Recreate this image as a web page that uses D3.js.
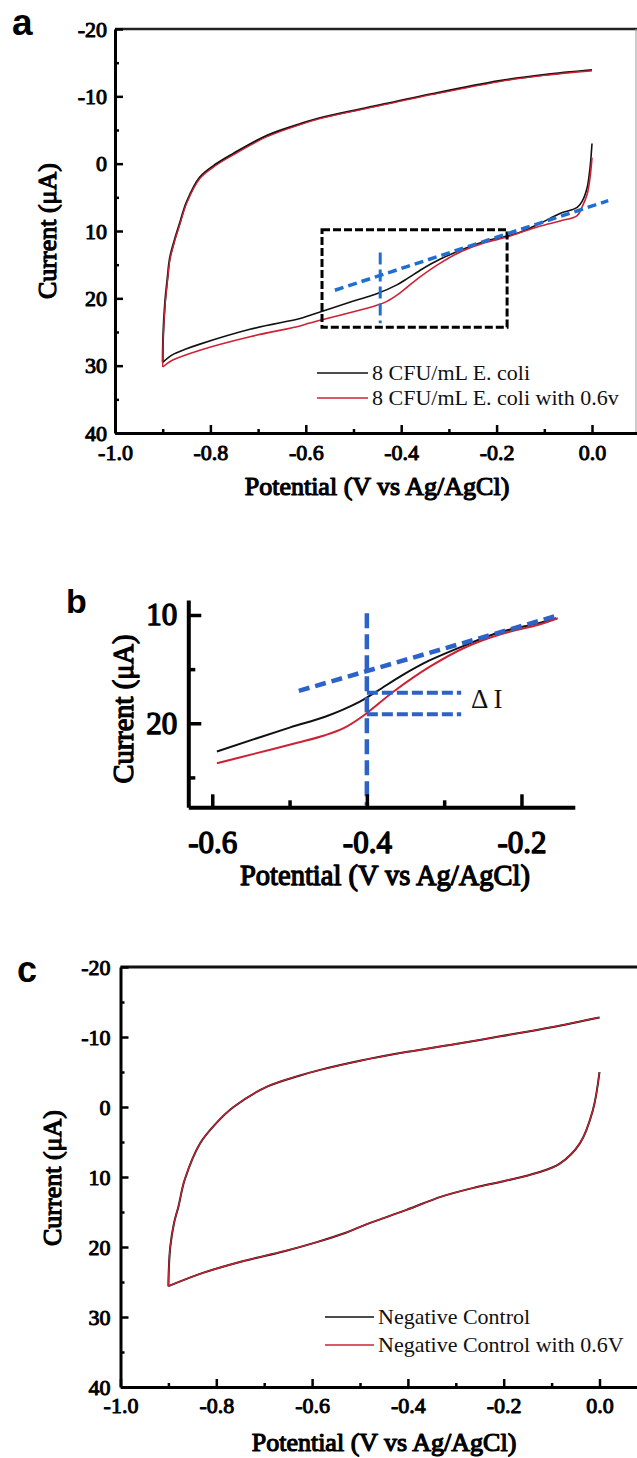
<!DOCTYPE html>
<html><head><meta charset="utf-8">
<script src="https://cdn.jsdelivr.net/npm/d3@7"></script>
<style>body{margin:0;background:#fff}svg{display:block}</style>
</head><body>
<script>
// ---------- DATA (Potential V, Current µA) ----------
// Panel a / b : 8 CFU/mL E. coli
const ecoliLowerV      = [-0.9,-0.88,-0.85,-0.822,-0.717,-0.612,-0.594,-0.5,-0.454,-0.409,-0.386,-0.355,-0.319,-0.273,-0.228,-0.178,-0.155,-0.11,-0.067,-0.031,-0.02,-0.01,-0.004,0.0];
const ecoliLowerI      = [29.5,28.4,27.5,26.8,24.6,23.0,22.6,20.4,19.4,18.0,17.0,15.6,14.2,12.8,11.6,10.75,10.3,8.9,7.4,6.5,5.5,3.5,0.5,-3.0];
const ecoliUpperV      = [-0.9,-0.899,-0.895,-0.89,-0.885,-0.875,-0.864,-0.85,-0.822,-0.787,-0.752,-0.681,-0.612,-0.57,-0.472,-0.333,-0.193,-0.1,0.0];
const ecoliUpperI      = [29.5,25.5,20.5,17.0,14.0,11.3,8.8,5.7,2.0,0.0,-1.5,-4.2,-5.9,-6.8,-8.3,-10.4,-12.3,-13.2,-13.9];
const ecoli06LowerV    = [-0.9,-0.88,-0.822,-0.717,-0.612,-0.594,-0.545,-0.49,-0.454,-0.43,-0.4045,-0.364,-0.319,-0.273,-0.228,-0.178,-0.153,-0.11,-0.067,-0.031,-0.02,-0.01,-0.004,0.0];
const ecoli06LowerI    = [30.2,29.2,27.7,25.7,24.1,23.7,22.8,21.8,21.1,20.45,19.3,17.0,14.8,13.0,11.8,10.9,10.3,9.3,8.5,7.7,6.3,4.5,2.0,-0.9];
const ecoli06UpperV    = [-0.9,-0.899,-0.895,-0.89,-0.885,-0.875,-0.864,-0.85,-0.822,-0.787,-0.752,-0.681,-0.612,-0.57,-0.472,-0.333,-0.193,-0.1,0.0];
const ecoli06UpperI    = [30.2,26.0,21.0,17.4,14.3,11.5,9.0,5.9,2.2,0.2,-1.3,-4.0,-5.8,-6.7,-8.2,-10.3,-12.2,-13.1,-13.8];
// Panel c : negative control (both traces overlap)
const ctrlLowerV       = [-0.9,-0.828,-0.743,-0.658,-0.59,-0.531,-0.488,-0.403,-0.33,-0.26,-0.2,-0.13,-0.083,-0.041,-0.014,0.0];
const ctrlLowerI       = [25.6,23.7,22.0,20.6,19.3,18.0,16.8,14.7,12.8,11.5,10.6,9.4,8.1,5.2,0.5,-5.0];
const ctrlUpperV       = [-0.9,-0.899,-0.896,-0.888,-0.879,-0.866,-0.834,-0.8,-0.764,-0.694,-0.625,-0.583,-0.5,-0.416,-0.3,-0.207,-0.1,0.0];
const ctrlUpperI       = [25.6,23.0,19.9,16.5,14.2,10.4,5.2,2.3,0.0,-2.9,-4.5,-5.3,-6.6,-7.7,-9.0,-10.1,-11.4,-12.8];
const ctrl06LowerI     = ctrlLowerI.slice();
const ctrl06UpperI     = ctrlUpperI.slice();

// Ticks
const yTicksAC   = [-20,-10,0,10,20,30,40];
const yMinorAC   = [-15,-5,5,15,25,35];
const xTicksAC   = [-1.0,-0.8,-0.6,-0.4,-0.2,0.0];
const xMinorAC   = [-0.9,-0.7,-0.5,-0.3,-0.1];
const yTicksB    = [10,20];
const yMinorB    = [15,25];
const xTicksB    = [-0.6,-0.4,-0.2];
const xMinorB    = [-0.5,-0.3];

// Annotations (data coords)
const boxA       = [[-0.566,9.8],[-0.178,24.3]];
const slopeA     = [[-0.539,18.8],[0.034,5.5]];
const vertA      = [[-0.444,13.2],[-0.444,23.7]];
const slopeB     = [[-0.488,17.0],[-0.151,10.0]];
const vertB      = [[-0.4,9.84],[-0.4,27.6]];
const hTopB      = [[-0.4,17.19],[-0.278,17.19]];
const hBotB      = [[-0.4,19.17],[-0.278,19.17]];

const legendA    = ["8 CFU/mL E. coli","8 CFU/mL E. coli with 0.6v"];
const legendC    = ["Negative Control","Negative Control with 0.6V"];
const xTitle     = "Potential (V vs Ag/AgCl)";
const yTitle     = "Current (\u03bcA)";

// ---------- DRAWING ----------
const BLACK = "#111", RED = "#cc2233", BLUE_A = "#1f6fd2", BLUE_B = "#2d62c8";
const serif = "'Liberation Serif','Times New Roman',serif";
const sans  = "'Liberation Sans',Arial,sans-serif";
const svg = d3.select("body").append("svg").attr("width",637).attr("height",1458);

const zip = (V,I) => V.map((v,i)=>[v,I[i]]);

// faux-bold serif text (regular face thickened with a stroke)
function boldSerif(sel,fs){
  sel.attr("font-family",serif).attr("font-weight","normal").attr("font-size",fs)
     .attr("fill","#000").attr("stroke","#000").attr("stroke-width",(fs*0.045).toFixed(2))
     .attr("stroke-linejoin","round");
}
function curve(g,x,y,pts,color,w){
  const line = d3.line().x(d=>x(d[0])).y(d=>y(d[1])).curve(d3.curveCatmullRom.alpha(0.5));
  g.append("path").attr("d",line(pts)).attr("fill","none")
   .attr("stroke",color).attr("stroke-width",w).attr("stroke-linejoin","round");
}
function seg(g,x,y,p,color,w,dash){
  g.append("line").attr("x1",x(p[0][0])).attr("y1",y(p[0][1]))
   .attr("x2",x(p[1][0])).attr("y2",y(p[1][1]))
   .attr("stroke",color).attr("stroke-width",w).attr("stroke-dasharray",dash);
}
function styleAxis(sel,domW,tickW,fs){
  sel.select(".domain").attr("stroke","#000").attr("stroke-width",domW);
  sel.selectAll(".tick line").attr("stroke","#000").attr("stroke-width",tickW);
  boldSerif(sel.selectAll("text"),fs);
}
function axesPanel(o){
  const g = svg.append("g");
  const ya = g.append("g").attr("transform",`translate(${o.x.range()[0]},0)`)
    .call(d3.axisLeft(o.y).tickValues(o.yTicks).tickSize(-o.tl).tickSizeOuter(0)
      .tickPadding(o.yPad).tickFormat(d=>String(d)));
  styleAxis(ya,o.dw,o.tw,o.fs);
  const ym = g.append("g").attr("transform",`translate(${o.x.range()[0]},0)`)
    .call(d3.axisLeft(o.y).tickValues(o.yMinor).tickSize(-o.tm).tickFormat(""));
  ym.select(".domain").remove(); ym.selectAll(".tick line").attr("stroke","#000").attr("stroke-width",o.tw);
  const xa = g.append("g").attr("transform",`translate(0,${o.y.range()[0]})`)
    .call(d3.axisBottom(o.x).tickValues(o.xTicks).tickSize(-o.tl).tickSizeOuter(0)
      .tickFormat(d=>d.toFixed(1)));
  styleAxis(xa,o.dw,o.tw,o.fs);
  xa.selectAll("text").attr("dy",null).attr("y",o.xLabOff);
  const xm = g.append("g").attr("transform",`translate(0,${o.y.range()[0]})`)
    .call(d3.axisBottom(o.x).tickValues(o.xMinor).tickSize(-o.tm).tickFormat(""));
  xm.select(".domain").remove(); xm.selectAll(".tick line").attr("stroke","#000").attr("stroke-width",o.tw);
  boldSerif(svg.append("text").attr("x",o.xtX).attr("y",o.xtY).attr("text-anchor","middle").text(xTitle),o.tfs);
  boldSerif(svg.append("text").attr("transform",`translate(${o.ytX},${o.ytY}) rotate(-90)`)
    .attr("text-anchor","middle").text(yTitle),o.tfs);
  svg.append("text").attr("x",o.lx).attr("y",o.ly).attr("font-family",sans).attr("font-weight","bold")
    .attr("font-size",o.lfs).text(o.letter);
  return g;
}
function legend(items,colors,x0,x1,ys,fs,dy){
  items.forEach((t,i)=>{
    svg.append("line").attr("x1",x0).attr("x2",x1).attr("y1",ys[i]).attr("y2",ys[i])
      .attr("stroke",colors[i]).attr("stroke-width",1.6);
    svg.append("text").attr("x",x1+4).attr("y",ys[i]+dy).attr("font-family",serif)
      .attr("font-size",fs).attr("fill","#111").text(t);
  });
}

// ===== Panel a =====
{
  const x = d3.scaleLinear().domain([-1,0.1]).range([115,639.7]);
  const y = d3.scaleLinear().domain([40,-20]).range([433,29]);
  const g = svg.append("g");
  curve(g,x,y,zip(ecoliLowerV,ecoliLowerI),BLACK,1.6);
  curve(g,x,y,zip(ecoliUpperV,ecoliUpperI),BLACK,2.0);
  curve(g,x,y,zip(ecoli06LowerV,ecoli06LowerI),RED,1.6);
  curve(g,x,y,zip(ecoli06UpperV,ecoli06UpperI),RED,1.3);
  g.append("rect").attr("x",x(boxA[0][0])).attr("y",y(boxA[0][1]))
    .attr("width",x(boxA[1][0])-x(boxA[0][0])).attr("height",y(boxA[1][1])-y(boxA[0][1]))
    .attr("fill","none").attr("stroke","#000").attr("stroke-width",3).attr("stroke-dasharray","8,3");
  seg(g,x,y,slopeA,BLUE_A,3.5,"9,5");
  seg(g,x,y,vertA,BLUE_A,3,"12,5");
  svg.append("line").attr("x1",115).attr("x2",637).attr("y1",29).attr("y2",29).attr("stroke","#222").attr("stroke-width",2.5);
  svg.append("line").attr("x1",636).attr("x2",636).attr("y1",29).attr("y2",433).attr("stroke","#999").attr("stroke-width",1);
  axesPanel({x,y,yTicks:yTicksAC,yMinor:yMinorAC,xTicks:xTicksAC,xMinor:xMinorAC,tl:8,tm:4,dw:3,tw:2.5,
    fs:22,yPad:8,xLabOff:27,tfs:26,xtX:377,xtY:495,ytX:56,ytY:231,lx:12,ly:35,lfs:37,letter:"a"});
  legend(legendA,[BLACK,RED],317,368,[373,398],22,7);
}

// ===== Panel b =====
{
  const x = d3.scaleLinear().domain([-0.631,-0.131]).range([188.3,574.8]);
  const y = d3.scaleLinear().domain([27.76,8.615]).range([807.3,600]);
  const g = svg.append("g");
  const inB = p => p[0] >= -0.5945 && p[0] <= -0.152;
  curve(g,x,y,zip(ecoliLowerV,ecoliLowerI).filter(inB),BLACK,2);
  curve(g,x,y,zip(ecoli06LowerV,ecoli06LowerI).filter(inB),RED,2);
  seg(g,x,y,slopeB,BLUE_B,4.5,"11,6");
  seg(g,x,y,vertB,BLUE_B,4.5,"15,6");
  seg(g,x,y,hTopB,BLUE_B,4,"11,4");
  seg(g,x,y,hBotB,BLUE_B,4,"11,4");
  svg.append("text").attr("x",471).attr("y",708).attr("font-family",serif).attr("font-size",27)
    .attr("fill","#111").text("\u0394 I");
  axesPanel({x,y,yTicks:yTicksB,yMinor:yMinorB,xTicks:xTicksB,xMinor:xMinorB,tl:13,tm:7,dw:4,tw:3.5,
    fs:31,yPad:11,xLabOff:46,tfs:28.5,xtX:385,xtY:885,ytX:133,ytY:709,lx:66,ly:613,lfs:34,letter:"b"});
}

// ===== Panel c =====
{
  const x = d3.scaleLinear().domain([-1,0.1]).range([120.5,647.4]);
  const y = d3.scaleLinear().domain([40,-20]).range([1387,967]);
  const g = svg.append("g");
  curve(g,x,y,zip(ctrlLowerV,ctrlLowerI),BLACK,2.0);
  curve(g,x,y,zip(ctrlUpperV,ctrlUpperI),BLACK,2.0);
  curve(g,x,y,zip(ctrlLowerV,ctrl06LowerI),RED,1.3);
  curve(g,x,y,zip(ctrlUpperV,ctrl06UpperI),RED,1.3);
  svg.append("line").attr("x1",120.5).attr("x2",637).attr("y1",967).attr("y2",967).attr("stroke","#111").attr("stroke-width",3);
  axesPanel({x,y,yTicks:yTicksAC,yMinor:yMinorAC,xTicks:xTicksAC,xMinor:xMinorAC,tl:8,tm:4,dw:3,tw:2.5,
    fs:22,yPad:10,xLabOff:26,tfs:26,xtX:384,xtY:1451,ytX:61,ytY:1178,lx:17,ly:982,lfs:36,letter:"c"});
  legend(legendC,[BLACK,RED],325,374,[1317,1345],22,7);
}
</script>
</body></html>
